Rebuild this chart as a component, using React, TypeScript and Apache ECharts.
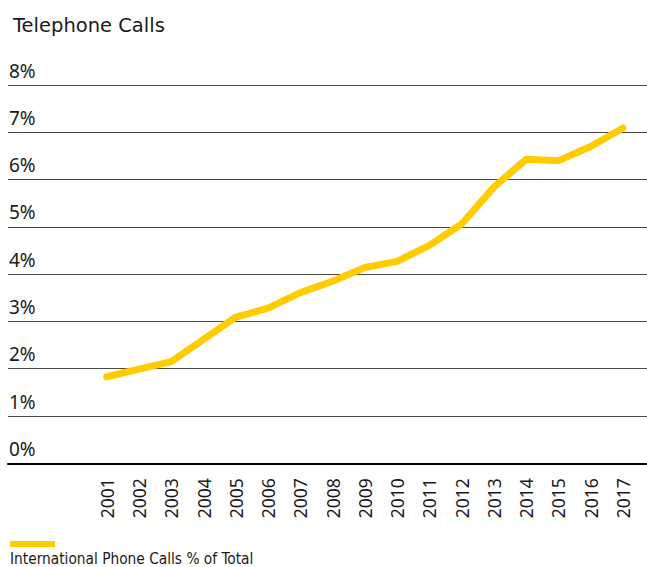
import React, { useEffect, useRef } from "react";
import * as echarts from "echarts";

const title = "Telephone Calls";
const seriesName = "International Phone Calls % of Total";
const years = [
  "2001", "2002", "2003", "2004", "2005", "2006", "2007", "2008", "2009",
  "2010", "2011", "2012", "2013", "2014", "2015", "2016", "2017",
];
const intlShare = [
  1.83, 1.99, 2.15, 2.62, 3.09, 3.28, 3.61, 3.85, 4.14,
  4.27, 4.61, 5.06, 5.84, 6.43, 6.4, 6.7, 7.09,
];
const yMin = 0;
const yMax = 8;
const yStep = 1;

const FONT = "'Noto Sans', 'DejaVu Sans', sans-serif";
const WIDE = "'DejaVu Sans', 'Noto Sans', sans-serif";
const NARROW = "'Liberation Sans Narrow', 'DejaVu Sans Condensed', 'Noto Sans', sans-serif";
const YELLOW = "#FFCC00";
const INK = "#1a1a1a";

export default function App() {
  const ref = useRef<HTMLDivElement>(null);
  useEffect(() => {
    if (!ref.current) return;
    const chart = echarts.init(ref.current, null, { renderer: "svg" });
    chart.setOption({
      animation: false,
      title: {
        text: title,
        left: 8,
        top: 10,
        textStyle: { fontFamily: WIDE, fontSize: 19.5, fontWeight: "normal", color: INK },
      },
      grid: [
        { left: 8, right: 0, top: 85, bottom: 103.7 },
        { left: 106.7, right: 24, top: 85, bottom: 103.7 },
      ],
      xAxis: [
        {
          gridIndex: 0,
          type: "category",
          data: years,
          axisLine: { show: true, lineStyle: { color: "#000", width: 2 } },
          axisTick: { show: false },
          axisLabel: { show: false },
          splitLine: { show: false },
        },
        {
          gridIndex: 1,
          type: "category",
          boundaryGap: false,
          data: years,
          axisLine: { show: false },
          axisTick: { show: false },
          splitLine: { show: false },
          axisLabel: {
            rotate: 90,
            margin: 15,
            interval: 0,
            fontFamily: FONT,
            fontSize: 17.5,
            color: INK,
          },
        },
      ],
      yAxis: [
        {
          gridIndex: 0,
          type: "value",
          min: yMin,
          max: yMax,
          interval: yStep,
          axisLine: { show: false },
          axisTick: { show: false },
          axisLabel: {
            inside: true,
            margin: 1,
            align: "left",
            verticalAlign: "bottom",
            padding: [0, 0, 5, 0],
            formatter: "{value}%",
            fontFamily: FONT,
            fontSize: 19,
            color: INK,
          },
          splitLine: { show: true, lineStyle: { color: "#4a4a4a", width: 1 } },
        },
        {
          gridIndex: 1,
          type: "value",
          min: yMin,
          max: yMax,
          interval: yStep,
          show: false,
        },
      ],
      series: [
        {
          type: "line",
          name: seriesName,
          xAxisIndex: 1,
          yAxisIndex: 1,
          data: intlShare,
          symbol: "none",
          z: 5,
          lineStyle: { color: YELLOW, width: 7, cap: "round", join: "round" },
        },
      ],
      graphic: [
        {
          type: "rect",
          shape: { x: 10, y: 541, width: 45, height: 6 },
          style: { fill: YELLOW },
        },
        {
          type: "text",
          x: 10,
          y: 558.5,
          style: {
            text: seriesName,
            fontFamily: NARROW,
            fontSize: 15.3,
            fill: INK,
            verticalAlign: "middle",
          },
        },
      ],
    });
    return () => chart.dispose();
  }, []);
  return (
    <div
      ref={ref}
      style={{ position: "fixed", left: 0, top: 0, width: 647, height: 567, background: "#fff" }}
    />
  );
}
